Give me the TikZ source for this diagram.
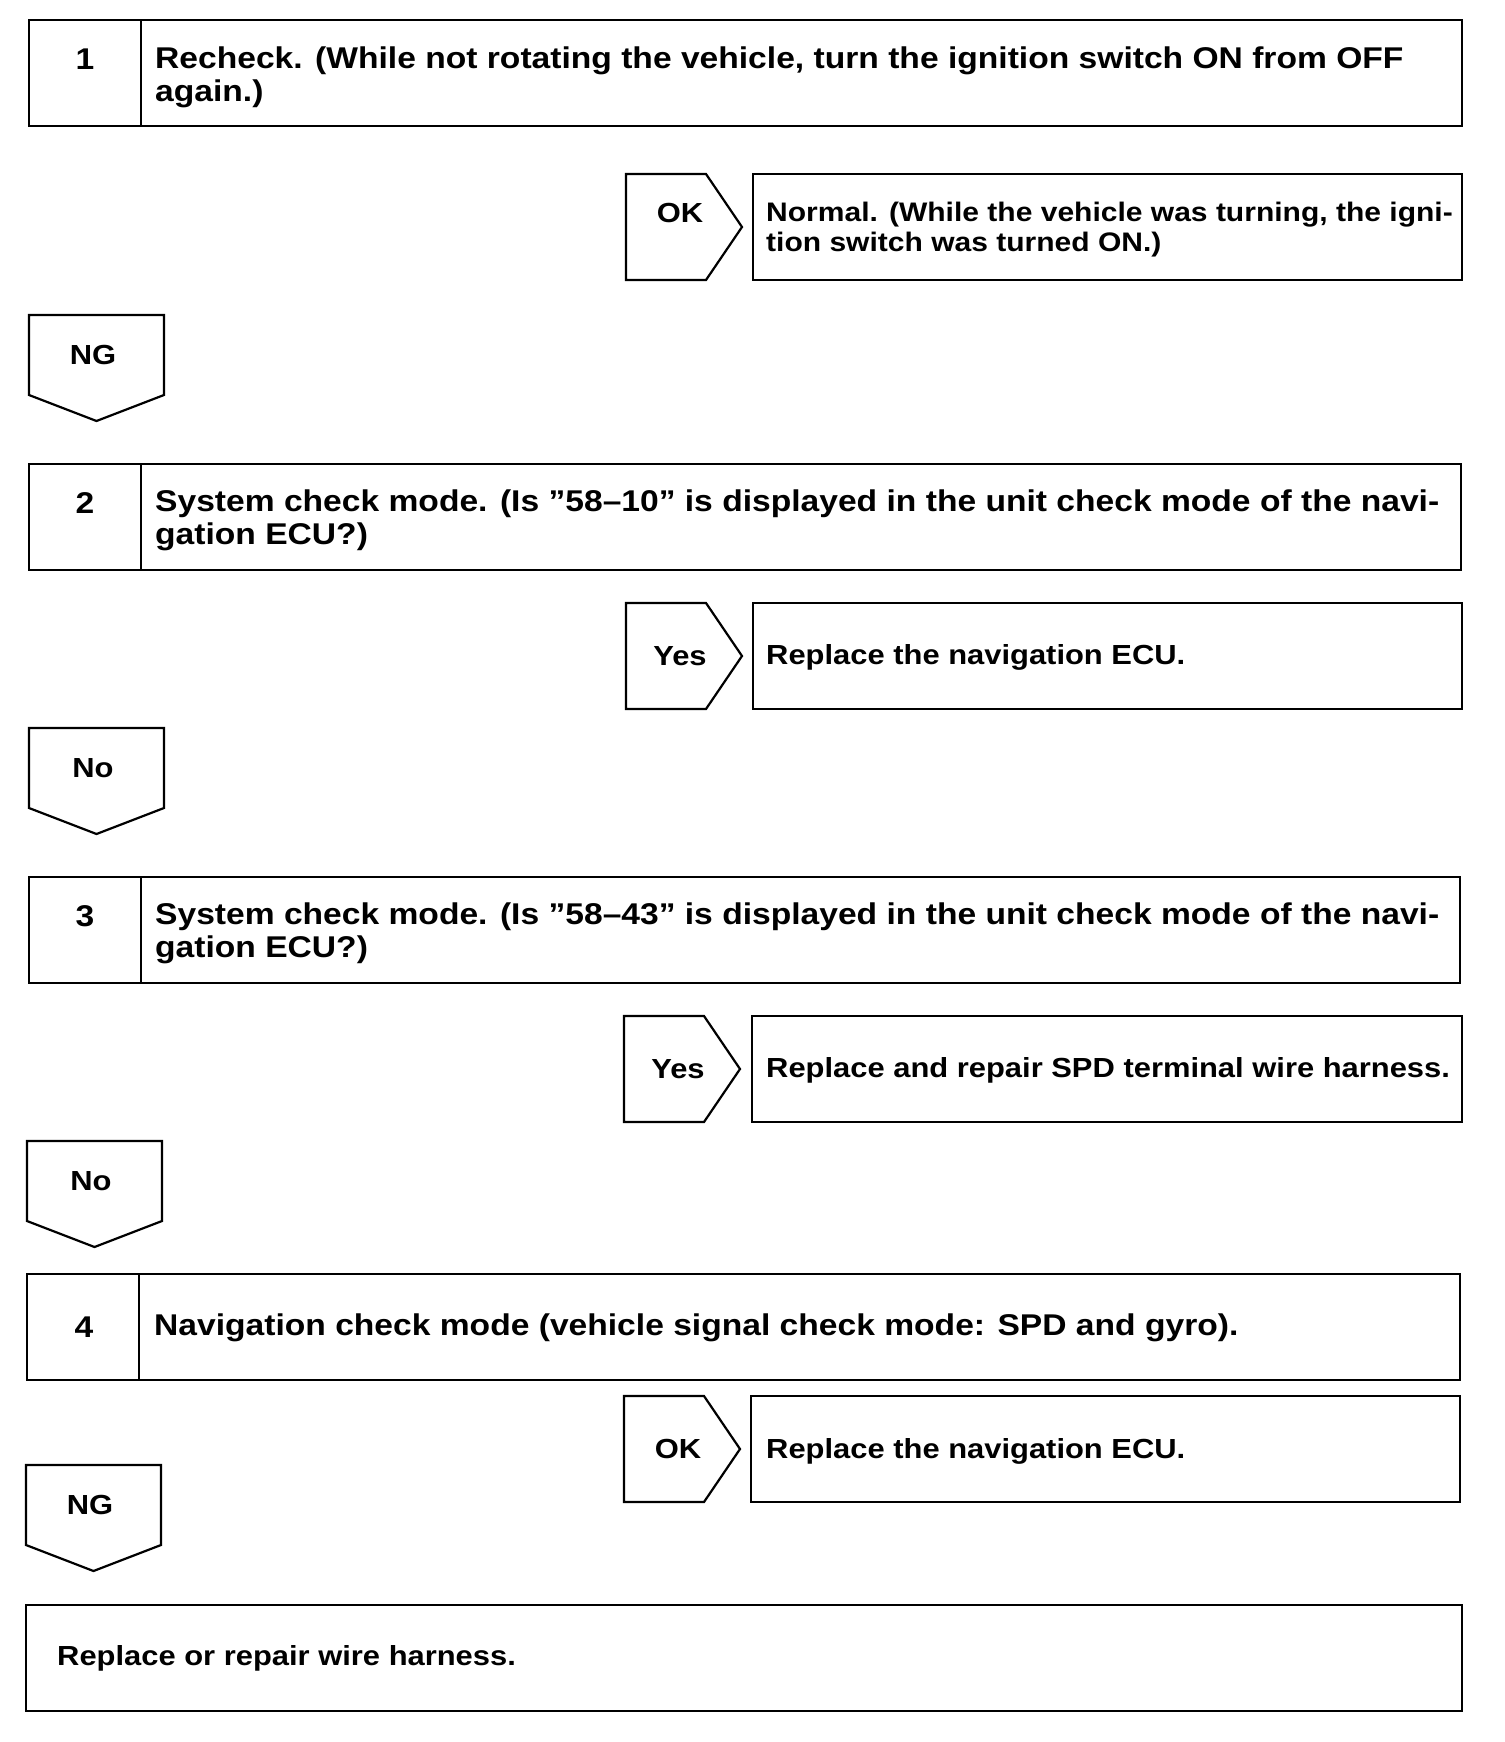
\documentclass[tikz,border=0pt]{standalone}
\usepackage{fontspec}
\setmainfont{Liberation Sans}[FakeStretch=1.12]
\begin{document}
\begin{tikzpicture}[x=1pt,y=-1pt,
    frame/.style={line width=2.2pt, line join=miter},
    txt/.style={font=\bfseries\fontsize{30}{33}\selectfont, align=left, inner sep=0pt},
    restxt/.style={txt, font=\bfseries\fontsize{27.6}{30}\selectfont},
  ]
  % --- canvas ---
  \useasboundingbox (0,0) rectangle (1504,1742);

  % --- question boxes: top / number divider ---
  \foreach \x/\y/\r in {29/20/1462, 29/464/1461, 29/877/1460, 27/1274/1460}{
    \draw[frame] (\x,\y) rectangle (\r,\y+106);
    \draw[frame] (\x+112,\y) -- (\x+112,\y+106);
  }
  \node[txt] (num1) at (85,59) {1};
  \node[txt] (num2) at (85,503) {2};
  \node[txt] (num3) at (85,916) {3};
  \node[txt] (num4) at (84,1327) {4};

  \node[txt, anchor=west] (chk1) at (155,77) {Recheck. (While not rotating the vehicle, turn the ignition switch ON from OFF\\again.)};
  \node[txt, anchor=west] (chk2) at (155,520) {System check mode. (Is ”58–10” is displayed in the unit check mode of the navi-\\gation ECU?)};
  \node[txt, anchor=west] (chk3) at (155,933) {System check mode. (Is ”58–43” is displayed in the unit check mode of the navi-\\gation ECU?)};
  \node[txt, anchor=west] (chk4) at (154,1328) {Navigation check mode (vehicle signal check mode: SPD and gyro).};

  % --- branch to the right (OK / Yes) ---
  \foreach \x/\y/\dy/\lab/\nm in {626/174/39/OK/ok1, 626/603/53/Yes/yes2, 624/1016/53/Yes/yes3, 624/1396/53/OK/ok4}{
    \draw[frame] (\x,\y) -- ++(80,0) -- ++(36,53) -- ++(-36,53) -- ++(-80,0) -- cycle;
    \node[restxt] (\nm) at (\x+54,\y+\dy) {\lab};
  }
  % result boxes
  \foreach \x/\y/\r in {753/174/1462, 753/603/1462, 752/1016/1462, 751/1396/1460}{
    \draw[frame] (\x,\y) rectangle (\r,\y+106);
  }
  \node[restxt, anchor=west, font=\bfseries\fontsize{26.8}{30}\selectfont] (res1) at (766,230) {Normal. (While the vehicle was turning, the igni-\\tion switch was turned ON.)};
  \node[restxt, anchor=west] (res2) at (766,657) {Replace the navigation ECU.};
  \node[restxt, anchor=west] (res3) at (766,1070) {Replace and repair SPD terminal wire harness.};
  \node[restxt, anchor=west] (res4) at (766,1451) {Replace the navigation ECU.};

  % --- branch downwards (NG / No) ---
  \foreach \x/\y/\lab/\nm in {29/315/NG/ng1, 29/728/No/no2, 27/1141/No/no3, 26/1465/NG/ng4}{
    \draw[frame] (\x,\y) -- ++(135,0) -- ++(0,80) -- ++(-67.5,26) -- ++(-67.5,-26) -- cycle;
    \node[restxt] (\nm) at (\x+64,\y+40) {\lab};
  }

  % --- final step ---
  \draw[frame] (26,1605) rectangle (1462,1711);
  \node[restxt, anchor=west] (fix) at (57,1658) {Replace or repair wire harness.};
\end{tikzpicture}
\end{document}
